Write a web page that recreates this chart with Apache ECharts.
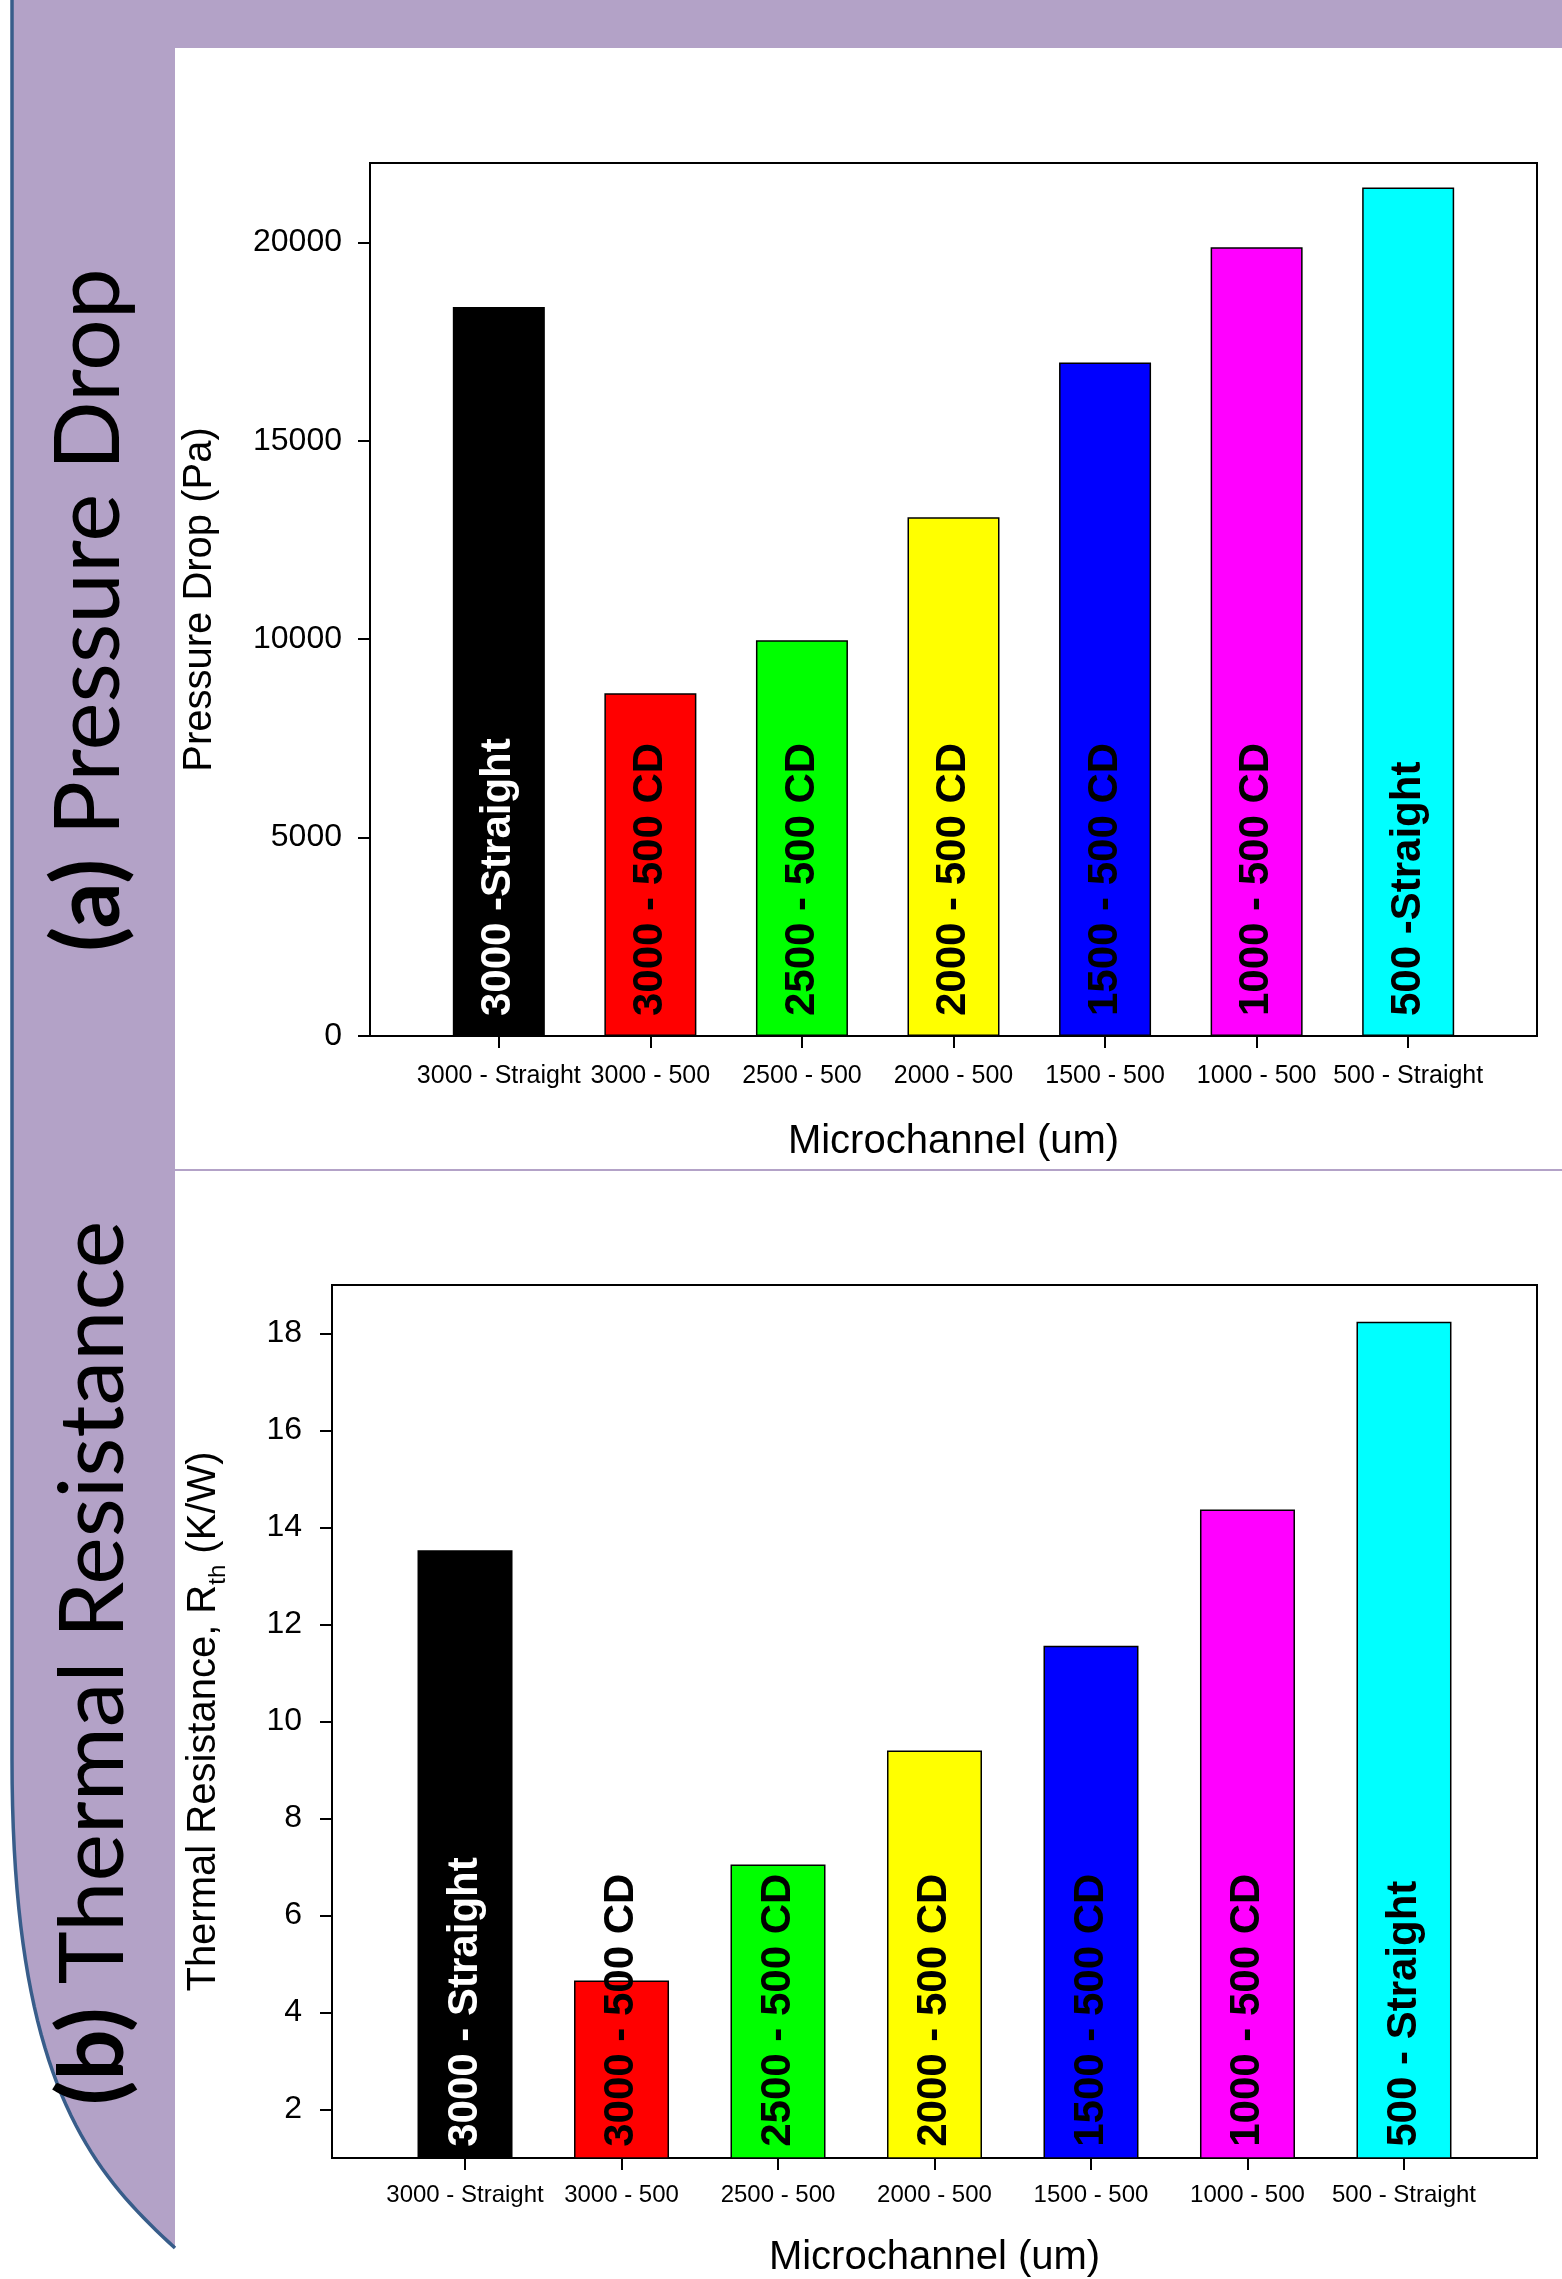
<!DOCTYPE html>
<html>
<head>
<meta charset="utf-8">
<script src="https://cdn.jsdelivr.net/npm/echarts@6/dist/echarts.min.js"></script>
<style>
html, body { margin: 0; padding: 0; background: #fff; }
#main { width: 1562px; height: 2279px; }
</style>
</head>
<body>
<div id="main"></div>
<script>
// data
var categories = ['3000 - Straight', '3000 - 500', '2500 - 500', '2000 - 500', '1500 - 500', '1000 - 500', '500 - Straight'];
var pressureBarText = ['3000 -Straight', '3000 - 500 CD', '2500 - 500 CD', '2000 - 500 CD', '1500 - 500 CD', '1000 - 500 CD', '500 -Straight'];
var thermalBarText = ['3000 - Straight', '3000 - 500 CD', '2500 - 500 CD', '2000 - 500 CD', '1500 - 500 CD', '1000 - 500 CD', '500 - Straight'];
var pressureDrop = [18370, 8640, 9970, 13070, 16970, 19880, 21380];
var thermalRes = [13.53, 4.66, 7.05, 9.40, 11.56, 14.37, 18.24];
var pressureTicks = [0, 5000, 10000, 15000, 20000];
var thermalTicks = [2, 4, 6, 8, 10, 12, 14, 16, 18];
var positions = [0, 1, 2, 3, 4, 5, 6];
var barColors = ['#000000', '#ff0000', '#00ff00', '#ffff00', '#0000ff', '#ff00ff', '#00ffff'];
var textColors = ['#ffffff', '#000000', '#000000', '#000000', '#000000', '#000000', '#000000'];

var FONT = 'Liberation Sans, Arial, sans-serif';
var PURPLE = '#b3a2c7';

var myChart = echarts.init(document.getElementById('main'));

function makeBars(values) {
    return values.map(function (v, i) {
        return {
            value: [positions[i], v],
            itemStyle: { color: barColors[i] },
            label: { color: textColors[i] }
        };
    });
}

// left purple strip with curved bottom
var curve = [];
for (var k = 0; k <= 40; k++) {
    var t = k / 40, u = 1 - t;
    curve.push([
        u * u * u * 12 + 3 * u * u * t * 12 + 3 * u * t * t * 90 + t * t * t * 175,
        u * u * u * 1760 + 3 * u * u * t * 2080 + 3 * u * t * t * 2170 + t * t * t * 2248
    ]);
}
var borderPts = [[12, 0]].concat(curve);
var stripPts = [[175, 0]].concat(borderPts);

function xAxisOpt(gridIndex, fontSize, margin, nameGap) {
    return {
        type: 'value', gridIndex: gridIndex, min: -0.85, max: 6.85,
        name: 'Microchannel (um)', nameLocation: 'middle', nameGap: nameGap,
        nameTextStyle: { fontFamily: FONT, fontSize: 40, color: '#000' },
        axisLine: { show: true, onZero: false, lineStyle: { color: '#000', width: 2 } },
        axisTick: { show: true, length: 12, customValues: positions, lineStyle: { color: '#000', width: 2 } },
        axisLabel: {
            customValues: positions, margin: margin,
            fontFamily: FONT, fontSize: fontSize, color: '#000',
            formatter: function (v) { return categories[v]; }
        },
        splitLine: { show: false }
    };
}

function yAxisOpt(gridIndex, min, max, ticks, name, nameGap, nameStyle) {
    return {
        type: 'value', gridIndex: gridIndex, min: min, max: max,
        name: name, nameLocation: 'middle', nameGap: nameGap,
        nameTextStyle: nameStyle,
        axisLine: { show: true, onZero: false, lineStyle: { color: '#000', width: 2 } },
        axisTick: { show: true, length: 12, customValues: ticks, lineStyle: { color: '#000', width: 2 } },
        axisLabel: {
            customValues: ticks, margin: gridIndex === 0 ? 28 : 30,
            fontFamily: FONT, fontSize: 32, color: '#000',
            formatter: function (v) { return String(v); }
        },
        splitLine: { show: false }
    };
}

var options = {
    backgroundColor: '#ffffff',
    animation: false,
    graphic: [
        { type: 'rect', silent: true, z: -10, shape: { x: 12, y: 0, width: 1550, height: 48 }, style: { fill: PURPLE } },
        { type: 'polygon', silent: true, z: -10, shape: { points: stripPts }, style: { fill: PURPLE } },
        { type: 'polyline', silent: true, z: -9, shape: { points: borderPts }, style: { stroke: '#385d8a', lineWidth: 3.5, fill: null } },
        { type: 'rect', silent: true, z: -9, shape: { x: 175, y: 1169, width: 1387, height: 2 }, style: { fill: PURPLE } },
        {
            type: 'text', silent: true, x: 90, y: 610, rotation: Math.PI / 2,
            style: {
                text: '{b|(a)} Pressure Drop', align: 'center', verticalAlign: 'middle',
                fontFamily: 'Lato, sans-serif', fontSize: 91, fill: '#000',
                rich: { b: { fontFamily: 'Lato, sans-serif', fontSize: 91, fontWeight: 'bold', fill: '#000' } }
            }
        },
        {
            type: 'text', silent: true, x: 94, y: 1663, rotation: Math.PI / 2,
            style: {
                text: '{b|(b)} Thermal Resistance', align: 'center', verticalAlign: 'middle',
                fontFamily: 'Lato, sans-serif', fontSize: 90, fill: '#000',
                rich: { b: { fontFamily: 'Lato, sans-serif', fontSize: 90, fontWeight: 'bold', fill: '#000' } }
            }
        }
    ],
    grid: [
        { left: 370, right: 25, top: 163, height: 873, show: true, borderColor: '#000', borderWidth: 2, outerBoundsMode: 'none' },
        { left: 332, right: 25, top: 1285, height: 873, show: true, borderColor: '#000', borderWidth: 2, outerBoundsMode: 'none' }
    ],
    xAxis: [
        xAxisOpt(0, 25, 28, 86),
        xAxisOpt(1, 24, 25, 80)
    ],
    yAxis: [
        yAxisOpt(0, 0, 22000, pressureTicks, 'Pressure Drop (Pa)', 150,
            { fontFamily: FONT, fontSize: 40, color: '#000' }),
        yAxisOpt(1, 1, 19, thermalTicks, 'Thermal Resistance, R{sub|th} (K/W)', 102, {
            fontFamily: FONT, fontSize: 40, color: '#000', lineHeight: 52,
            rich: { sub: { fontFamily: FONT, fontSize: 24, lineHeight: 24, verticalAlign: 'bottom', color: '#000' } }
        })
    ],
    series: [
        {
            name: 'Pressure Drop', type: 'bar', xAxisIndex: 0, yAxisIndex: 0,
            barWidth: 92,
            itemStyle: { borderColor: '#000', borderWidth: 1.5 },
            label: {
                show: true, position: 'insideBottom', distance: 20, rotate: 90,
                align: 'left', verticalAlign: 'middle',
                fontFamily: FONT, fontSize: 42, fontWeight: 'bold',
                formatter: function (p) { return pressureBarText[p.dataIndex]; }
            },
            data: makeBars(pressureDrop)
        },
        {
            name: 'Thermal Resistance', type: 'bar', xAxisIndex: 1, yAxisIndex: 1,
            barWidth: 95,
            itemStyle: { borderColor: '#000', borderWidth: 1.5 },
            label: {
                show: true, position: 'insideBottom', distance: 12, rotate: 90,
                align: 'left', verticalAlign: 'middle',
                fontFamily: FONT, fontSize: 42, fontWeight: 'bold',
                formatter: function (p) { return thermalBarText[p.dataIndex]; }
            },
            data: makeBars(thermalRes)
        }
    ]
};

myChart.setOption(options);
</script>
</body>
</html>
